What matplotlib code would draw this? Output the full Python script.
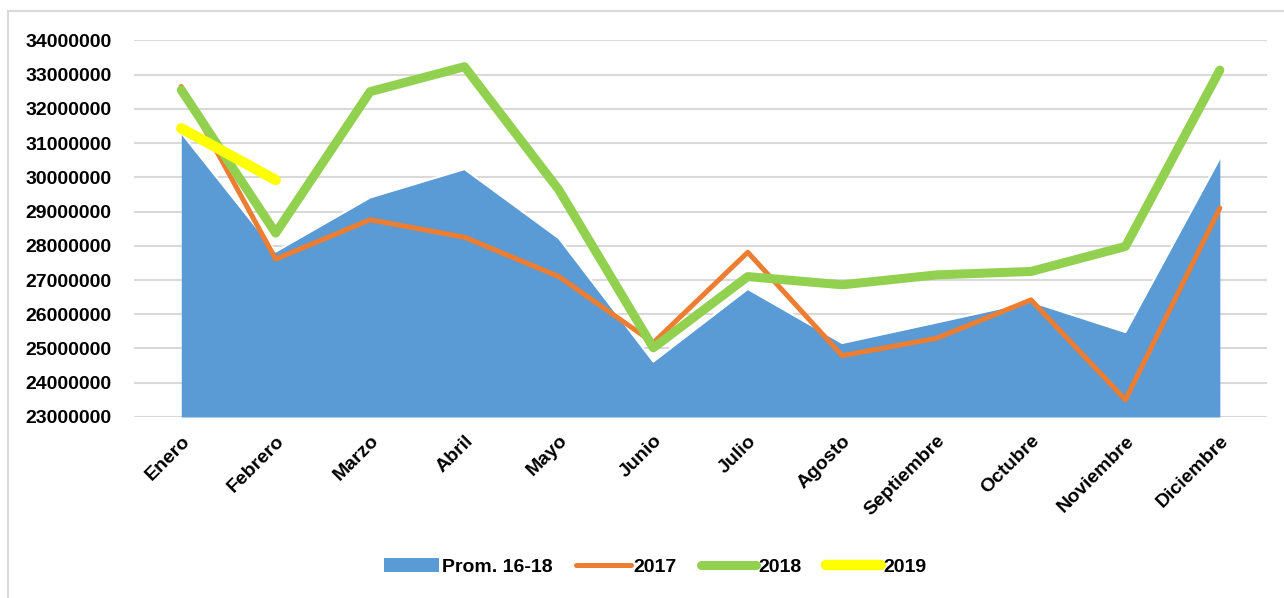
import matplotlib
matplotlib.use("Agg")
import matplotlib.pyplot as plt
from matplotlib.patches import Rectangle, Patch
from matplotlib.lines import Line2D
from matplotlib.ticker import MultipleLocator, StrMethodFormatter

# --- data ---
MONTHS = ["Enero", "Febrero", "Marzo", "Abril", "Mayo", "Junio", "Julio",
          "Agosto", "Septiembre", "Octubre", "Noviembre", "Diciembre"]
PROM_16_18 = [31300000, 27830000, 29410000, 30240000, 28220000, 24620000,
              26740000, 25160000, 25760000, 26370000, 25480000, 30560000]
Y2017 = [32650000, 27610000, 28760000, 28250000, 27100000, 25170000,
         27810000, 24790000, 25300000, 26420000, 23500000, 29100000]
Y2018 = [32550000, 28370000, 32500000, 33230000, 29630000, 25020000,
         27100000, 26860000, 27150000, 27250000, 27980000, 33130000]
Y2019 = [31430000, 29920000]

BLUE = "#5B9BD5"
ORANGE = "#ED7D31"
GREEN = "#92D050"
YELLOW = "#FFFF00"
GRID = "#D9D9D9"
FONT_SIZE = 14

plt.rcParams["font.family"] = ["Liberation Sans", "DejaVu Sans"]
plt.rcParams["font.weight"] = "bold"

fig = plt.figure(figsize=(12.84, 5.98), dpi=100)
ax = fig.add_axes([0.1044, 0.3027, 0.8824, 0.6299])

# light frame around the whole chart
fig.patches.append(Rectangle((8 / 1284, -0.05), 1.2, 1 - 11 / 598 + 0.05,
                             transform=fig.transFigure, fill=False,
                             edgecolor=GRID, linewidth=1.5))

x = list(range(len(MONTHS)))
ax.fill_between(x, PROM_16_18, 23000000, color=BLUE, linewidth=0, zorder=2)
ax.plot(x, PROM_16_18, color="white", linewidth=1.5, zorder=2.5)
ax.plot(x, Y2017, color=ORANGE, linewidth=3.6, solid_capstyle="round",
        solid_joinstyle="round", zorder=3)
ax.plot(x, Y2018, color=GREEN, linewidth=6.5, solid_capstyle="round",
        solid_joinstyle="round", zorder=4)
ax.plot(x[:len(Y2019)], Y2019, color=YELLOW, linewidth=7.5,
        solid_capstyle="round", solid_joinstyle="round", zorder=5)

ax.set_xlim(-0.5, len(MONTHS) - 0.5)
ax.set_ylim(23000000, 34000000)
ax.yaxis.set_major_locator(MultipleLocator(1000000))
ax.yaxis.set_major_formatter(StrMethodFormatter("{x:.0f}"))
ax.grid(axis="y", color=GRID, linewidth=1.5, zorder=0)
ax.set_axisbelow(True)
for side in ["top", "right", "left", "bottom"]:
    ax.spines[side].set_visible(False)
ax.tick_params(axis="both", length=0, labelsize=FONT_SIZE)
ax.tick_params(axis="y", pad=16)
ax.set_xticks(x)
ax.set_xticklabels(MONTHS, rotation=45, ha="right", rotation_mode="anchor",
                   fontweight="bold")
ax.tick_params(axis="x", pad=11)
for lbl in ax.get_yticklabels():
    lbl.set_fontweight("bold")

handles = [
    Patch(facecolor=BLUE, edgecolor="none"),
    Line2D([], [], color=ORANGE, linewidth=3.6, solid_capstyle="round"),
    Line2D([], [], color=GREEN, linewidth=6.5, solid_capstyle="round"),
    Line2D([], [], color=YELLOW, linewidth=7.5, solid_capstyle="round"),
]
fig.legend(handles, ["Prom. 16-18", "2017", "2018", "2019"],
           loc="center", bbox_to_anchor=(0.5105, 1 - 567 / 598), ncol=4,
           frameon=False, handlelength=2.8, handleheight=0.7,
           handletextpad=0.15, columnspacing=1.25,
           prop={"weight": "bold", "size": FONT_SIZE})

fig.savefig("out.png", dpi=100)
